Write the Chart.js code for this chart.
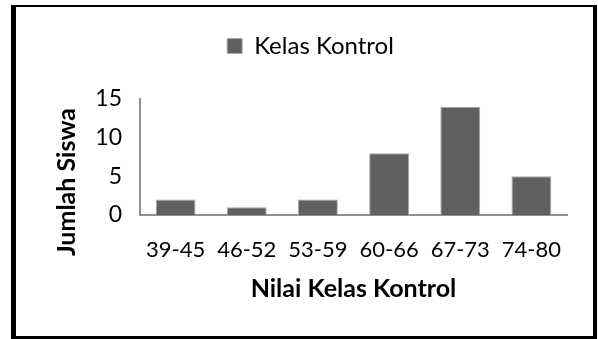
<!DOCTYPE html>
<html>
<head>
<meta charset="utf-8">
<script src="https://cdn.jsdelivr.net/npm/chart.js@4.4.1/dist/chart.umd.min.js"></script>
<style>
  body { margin: 0; background: #fff; }
  #wrap { position: relative; width: 598px; height: 339px; }
  #frame {
    position: absolute; left: 11px; top: 5px; width: 586px; height: 334px;
    box-sizing: border-box; border: solid #000; border-width: 2px 4px 3px 5px;
    pointer-events: none;
  }
</style>
</head>
<body>
<div id="wrap">
  <canvas id="chart" width="598" height="339"></canvas>
  <div id="frame"></div>
</div>
<script>
// data
const categories = ['39-45', '46-52', '53-59', '60-66', '67-73', '74-80'];
const jumlahSiswa = [2, 1, 2, 8, 14, 5];
const yTicks = [0, 5, 10, 15];
const seriesName = 'Kelas Kontrol';
const xTitle = 'Nilai Kelas Kontrol';
const yTitle = 'Jumlah Siswa';

Chart.defaults.font.family = 'Lato';
Chart.defaults.color = '#000';

// extra room under the legend
const legendMargin = {
    id: 'legendMargin',
    beforeInit(chart) {
        const fit = chart.legend.fit;
        chart.legend.fit = function () {
            fit.bind(chart.legend)();
            this.height += 31;
        };
    }
};

// y title drawn by hand so it can sit a bit lower like the original
const yTitlePlugin = {
    id: 'yTitle',
    afterDraw(chart) {
        const c = chart.ctx;
        const area = chart.chartArea;
        c.save();
        c.translate(area.left - 73, area.bottom - 33);
        c.rotate(-Math.PI / 2);
        c.font = 'bold 25px Lato';
        c.fillStyle = '#000';
        c.textAlign = 'center';
        c.textBaseline = 'middle';
        c.fillText(yTitle, 0, 0);
        c.restore();
    }
};

const ctx = document.getElementById('chart').getContext('2d');
const chart = new Chart(ctx, {
    type: 'bar',
    data: {
        labels: categories,
        datasets: [{
            label: seriesName,
            data: jumlahSiswa,
            backgroundColor: '#606060',
            borderColor: '#a8a8a8',
            borderWidth: 1,
            barPercentage: 0.56,
            categoryPercentage: 1
        }]
    },
    options: {
        responsive: false,
        animation: false,
        layout: {
            padding: { left: 54, right: 31, top: 24, bottom: 0 }
        },
        plugins: {
            legend: {
                position: 'top',
                labels: {
                    boxWidth: 15,
                    boxHeight: 15,
                    padding: 10,
                    font: { size: 24 }
                }
            },
            tooltip: { enabled: false }
        },
        scales: {
            x: {
                grid: { display: false, drawTicks: false },
                border: { color: '#8f8f8f', width: 2 },
                ticks: { padding: 22, font: { size: 22 } },
                title: {
                    display: true,
                    text: xTitle,
                    font: { size: 25, weight: 'bold' },
                    padding: { top: 0, bottom: 35 }
                },
                afterFit: (s) => { s.height = 124; }
            },
            y: {
                min: 0,
                max: 15,
                grid: { display: false, drawTicks: false },
                border: { color: '#8f8f8f', width: 2 },
                ticks: { padding: 18, font: { size: 23 } },
                afterBuildTicks: (s) => { s.ticks = yTicks.map(v => ({ value: v })); },
                afterFit: (s) => { s.width = 86; }
            }
        }
    },
    plugins: [legendMargin, yTitlePlugin]
});
</script>
</body>
</html>
